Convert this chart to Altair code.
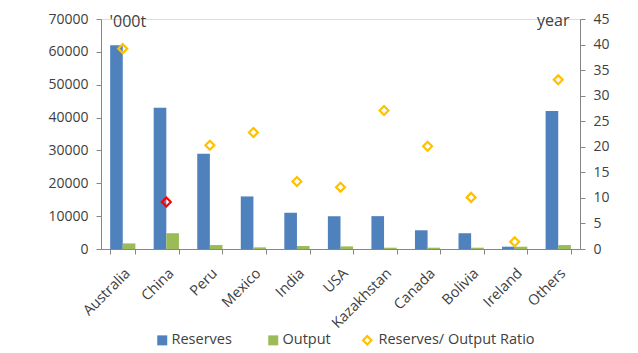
import altair as alt
import pandas as pd

countries = ["Australia", "China", "Peru", "Mexico", "India", "USA",
             "Kazakhstan", "Canada", "Bolivia", "Ireland", "Others"]
reserves = [62000, 43000, 29000, 16000, 11000, 10000, 10000, 5700, 4800, 700, 42000]
output = [1700, 4800, 1200, 500, 900, 800, 400, 400, 400, 700, 1200]
ratio = [39.2, 9.2, 20.3, 22.8, 13.2, 12.1, 27.1, 20.1, 10.1, 1.4, 33.1]

FONT = "Open Sans"
TXT = "#404040"
AX = "#868686"

bars_df = pd.DataFrame(
    [{"country": c, "series": "Reserves", "value": r} for c, r in zip(countries, reserves)]
    + [{"country": c, "series": "Output", "value": o} for c, o in zip(countries, output)]
)
pts_df = pd.DataFrame({"country": countries, "ratio": ratio,
                       "series": ["Reserves/ Output Ratio"] * len(countries)})

xscale = alt.Scale(domain=countries, paddingInner=0.42, paddingOuter=0.21)
xaxis = alt.Axis(title=None, labelAngle=-45, tickBand="extent", labelFont=FONT,
                 labelFontSize=14.5, labelColor=TXT, domainColor=AX, tickColor=AX,
                 tickSize=5, labelPadding=12)

bars = alt.Chart(bars_df).mark_bar().encode(
    x=alt.X("country:N", scale=xscale, axis=xaxis, sort=countries),
    xOffset=alt.XOffset("series:N", scale=alt.Scale(domain=["Reserves", "Output"])),
    y=alt.Y("value:Q", scale=alt.Scale(domain=[0, 70000], nice=False),
            axis=alt.Axis(title="'000t", titleAngle=0, titleX=8, titleY=2,
                          titleAlign="left", titleBaseline="middle",
                          titleFont=FONT, titleFontSize=16, titleFontWeight="normal",
                          titleColor=TXT, values=list(range(0, 70001, 10000)),
                          format="d", grid=False, labelFont=FONT, labelFontSize=14,
                          labelColor=TXT, domainColor=AX, tickColor=AX, tickSize=5,
                          labelPadding=8)),
    fill=alt.Fill("series:N",
                  scale=alt.Scale(domain=["Reserves", "Output"], range=["#4F81BD", "#9BBB59"]),
                  legend=alt.Legend(title=None, orient="none", direction="horizontal",
                                    legendX=54, legendY=314, symbolType="square",
                                    symbolSize=100, symbolStrokeWidth=0,
                                    labelFont=FONT, labelFontSize=14.5, labelColor=TXT,
                                    columnPadding=34, labelOffset=2, padding=0)),
)

points = alt.Chart(pts_df).mark_point(shape="diamond", filled=False, size=80, strokeWidth=2.2,
                                      opacity=1).encode(
    x=alt.X("country:N", scale=xscale, sort=countries),
    y=alt.Y("ratio:Q", scale=alt.Scale(domain=[0, 45], nice=False),
            axis=alt.Axis(orient="right", title="year", titleAngle=0, titleX=-11, titleY=1,
                          titleAlign="right", titleBaseline="middle",
                          titleFont=FONT, titleFontSize=16, titleFontWeight="normal",
                          titleColor=TXT, values=list(range(0, 46, 5)), grid=False,
                          labelFont=FONT, labelFontSize=14, labelColor=TXT,
                          domainColor=AX, tickColor=AX, tickSize=5, labelPadding=8)),
    stroke=alt.condition(
        alt.datum.country == "China", alt.value("#FF0000"),
        alt.Stroke("series:N",
                   scale=alt.Scale(domain=["Reserves/ Output Ratio"], range=["#FFC000"]),
                   legend=alt.Legend(title=None, orient="none", legendX=259, legendY=314,
                                     symbolType="diamond", symbolSize=70,
                                     symbolStrokeWidth=2.2, labelFont=FONT,
                                     labelFontSize=14.5, labelColor=TXT, labelOffset=4,
                                     padding=0))),
)

chart = alt.layer(bars, points).resolve_scale(y="independent").properties(
    width=479, height=230,
    autosize=alt.AutoSizeParams(type="none"),
    padding={"left": 101, "top": 19, "right": 58, "bottom": 104},
).configure_view(stroke=None).configure(background="white")

chart.save("out.html", embed_options={"renderer": "svg", "actions": False})
